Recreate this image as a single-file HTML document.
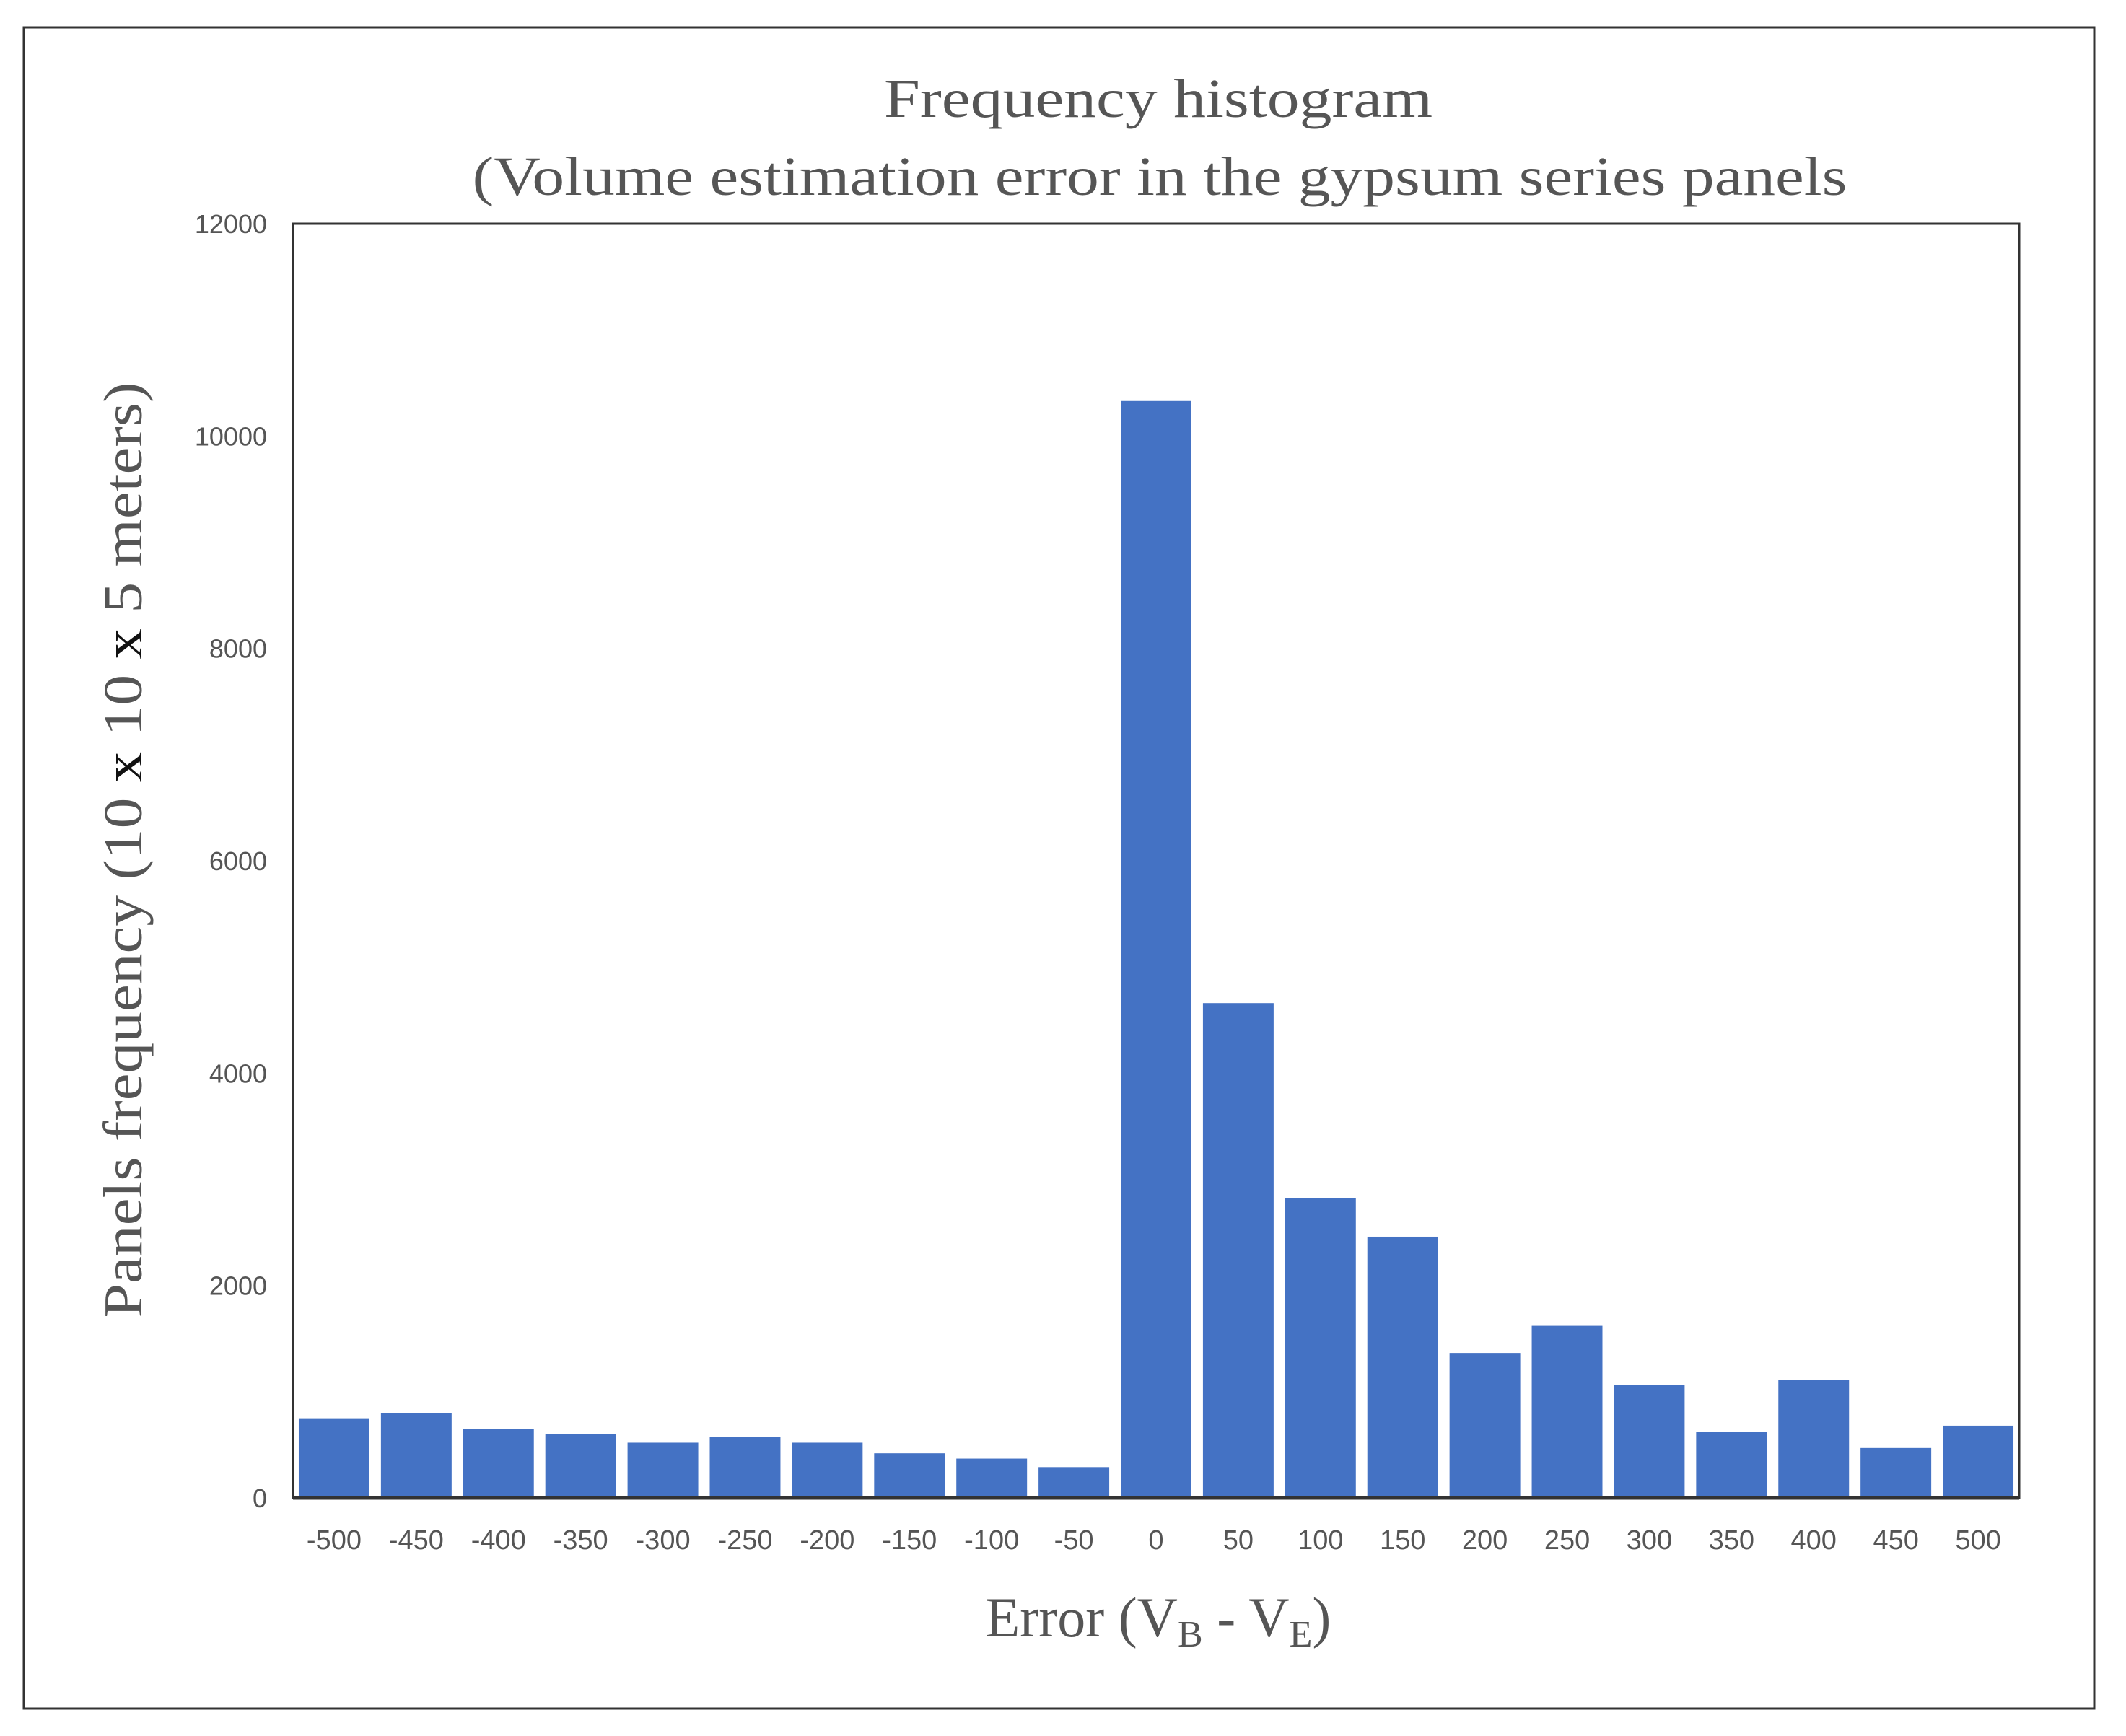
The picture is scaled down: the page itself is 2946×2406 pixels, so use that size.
<!DOCTYPE html>
<html><head><meta charset="utf-8"><style>
html,body{margin:0;padding:0;background:#fff;}
svg{display:block;}
</style></head><body>
<svg id="chart" width="2946" height="2406" viewBox="0 0 2946 2406" xmlns="http://www.w3.org/2000/svg">
<rect x="33" y="38" width="2869" height="2330" fill="#fff" stroke="#333" stroke-width="3"/>
<text x="1605" y="162" text-anchor="middle" font-family="Liberation Serif, serif" font-size="76" fill="#555" textLength="760" lengthAdjust="spacingAndGlyphs">Frequency histogram</text>
<text x="1607" y="270" text-anchor="middle" font-family="Liberation Serif, serif" font-size="76" fill="#555" textLength="1905" lengthAdjust="spacingAndGlyphs">(Volume estimation error in the gypsum series panels</text>
<g id="bars"></g>
<g id="yticks"></g>
<g id="xticks"></g>
<rect x="406" y="310" width="2392" height="1766" fill="none" stroke="#333" stroke-width="3"/>
<line x1="406" y1="2076" x2="2798" y2="2076" stroke="#333" stroke-width="5"/>
<text x="1605" y="2268" text-anchor="middle" font-family="Liberation Serif, serif" font-size="78" fill="#555">Error (V<tspan font-size="52" dy="14">B</tspan><tspan dy="-14"> - V</tspan><tspan font-size="52" dy="14">E</tspan><tspan dy="-14">)</tspan></text>
<text transform="translate(196,1178) rotate(-90)" text-anchor="middle" font-family="Liberation Serif, serif" font-size="76" fill="#555" textLength="1297" lengthAdjust="spacingAndGlyphs">Panels frequency (10 <tspan fill="#111">x</tspan> 10 <tspan fill="#111">x</tspan> 5 meters)</text>
</svg>
<script>
const categories = ["-500","-450","-400","-350","-300","-250","-200","-150","-100","-50","0","50","100","150","200","250","300","350","400","450","500"];
const values = [750,800,650,600,520,575,520,420,370,290,10330,4660,2820,2460,1365,1620,1060,625,1110,470,680];
const yTickValues = [0,2000,4000,6000,8000,10000,12000];
const yTickLabels = ["0","2000","4000","6000","8000","10000","12000"];

const NS = "http://www.w3.org/2000/svg";
const L = 406, R = 2798, T = 310, B = 2076, YMAX = 12000;
function yScale(v){ return B - (v / YMAX) * (B - T); }
const band = (R - L) / categories.length;
function xScale(i){ return L + i * band; }
const barW = band * 0.86;

const gb = document.getElementById('bars');
const gx = document.getElementById('xticks');
const gy = document.getElementById('yticks');
categories.forEach((c, i) => {
  const r = document.createElementNS(NS, 'rect');
  
  
  const x = xScale(i) + (band - barW) / 2;
  r.setAttribute('x', x);
  r.setAttribute('y', yScale(values[i]));
  r.setAttribute('width', barW);
  r.setAttribute('height', B - yScale(values[i]));
  r.setAttribute('fill', '#4472C4');
  gb.appendChild(r);
  const t = document.createElementNS(NS, 'text');
  
  
  t.setAttribute('x', xScale(i) + band / 2);
  t.setAttribute('y', 2147);
  t.setAttribute('text-anchor', 'middle');
  t.setAttribute('font-family', 'Liberation Sans Narrow, Liberation Sans, sans-serif');
  t.setAttribute('font-size', '38');
  t.setAttribute('fill', '#555');
  t.textContent = c;
  gx.appendChild(t);
});
yTickValues.forEach((v, i) => {
  const t = document.createElementNS(NS, 'text');
  
  
  t.setAttribute('x', 370);
  t.setAttribute('y', yScale(v) + 13);
  t.setAttribute('text-anchor', 'end');
  t.setAttribute('font-family', 'Liberation Sans Narrow, Liberation Sans, sans-serif');
  t.setAttribute('font-size', '36');
  t.setAttribute('fill', '#555');
  t.textContent = yTickLabels[i];
  gy.appendChild(t);
});
</script>
</body></html>
